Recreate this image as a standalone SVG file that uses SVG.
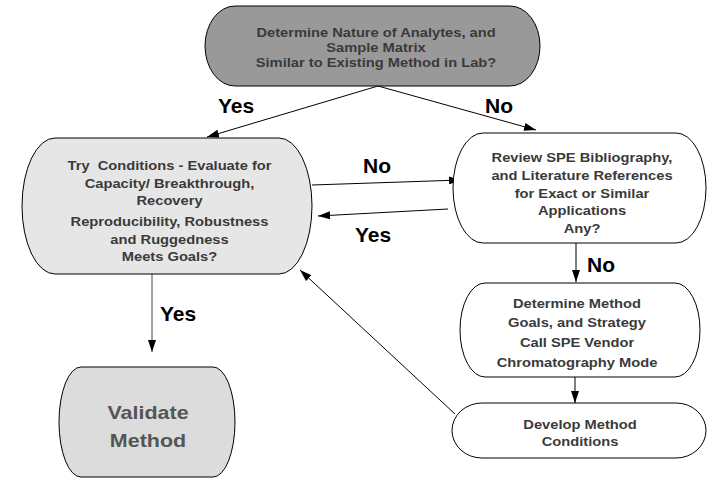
<svg xmlns="http://www.w3.org/2000/svg" width="708" height="478" viewBox="0 0 708 478">
<defs>
<marker id="ah" viewBox="0 0 12 8" refX="12" refY="4" markerWidth="12" markerHeight="8" markerUnits="userSpaceOnUse" orient="auto">
<path d="M0,0 L12,4 L0,8 Z" fill="#000"/>
</marker>
<style>
.node{stroke:#000;stroke-width:1}
.t{font-family:"Liberation Sans",Arial,sans-serif;font-weight:bold;font-size:13px;fill:#3a3a3a;text-anchor:middle}
.v{font-family:"Liberation Sans",Arial,sans-serif;font-weight:bold;font-size:19px;fill:#555;text-anchor:middle}
.lbl{font-family:"Liberation Sans",Arial,sans-serif;font-weight:bold;font-size:21px;fill:#000}
.c{stroke:#000;stroke-width:1;fill:none;marker-end:url(#ah)}
</style>
</defs>
<rect width="708" height="478" fill="#fff"/>
<g id="connectors">
<line class="c" x1="378" y1="86" x2="207" y2="137"/>
<line class="c" x1="378" y1="86" x2="536" y2="130"/>
<line class="c" x1="312" y1="185" x2="461" y2="180"/>
<line class="c" x1="448" y1="209" x2="318" y2="216"/>
<line class="c" x1="576" y1="243" x2="576" y2="282"/>
<line class="c" x1="575" y1="377" x2="575" y2="403"/>
<line class="c" x1="455" y1="414" x2="300" y2="270"/>
<line class="c" x1="152" y1="274" x2="152" y2="352" style="stroke:#444"/>
<text class="lbl" x="218" y="113">Yes</text>
<text class="lbl" x="485" y="113">No</text>
<text class="lbl" x="363" y="173">No</text>
<text class="lbl" x="355" y="242">Yes</text>
<text class="lbl" x="587" y="272">No</text>
<text class="lbl" x="160" y="321">Yes</text>
</g>
<g id="n-determine-nature">
<rect class="node" x="205" y="6" width="335" height="80" rx="30" ry="40" fill="#999"/>
<g transform="translate(376 0) scale(1.13 1)">
<text class="t" x="0" y="37">Determine Nature of Analytes, and</text>
<text class="t" x="0" y="52">Sample Matrix</text>
<text class="t" x="0" y="67">Similar to Existing Method in Lab?</text>
</g>
</g>
<g id="n-try-conditions">
<rect class="node" x="22" y="138" width="290" height="136" rx="33" ry="68" fill="#e6e6e6"/>
<g transform="translate(169.5 0) scale(1.13 1)">
<text class="t" x="0" y="170" style="white-space:pre">Try  Conditions - Evaluate for</text>
<text class="t" x="0" y="188">Capacity/ Breakthrough,</text>
<text class="t" x="0" y="205">Recovery</text>
<text class="t" x="0" y="226">Reproducibility, Robustness</text>
<text class="t" x="0" y="244">and Ruggedness</text>
<text class="t" x="0" y="261.5">Meets Goals?</text>
</g>
</g>
<g id="n-review">
<rect class="node" x="453" y="133" width="253" height="110" rx="30" ry="55" fill="#fff"/>
<g transform="translate(582 0) scale(1.13 1)">
<text class="t" x="0" y="162">Review SPE Bibliography,</text>
<text class="t" x="0" y="180">and Literature References</text>
<text class="t" x="0" y="198">for Exact or Similar</text>
<text class="t" x="0" y="215">Applications</text>
<text class="t" x="0" y="233">Any?</text>
</g>
</g>
<g id="n-determine-method">
<rect class="node" x="460" y="283" width="240" height="94" rx="25" ry="47" fill="#fff"/>
<g transform="translate(577 0) scale(1.13 1)">
<text class="t" x="0" y="308">Determine Method</text>
<text class="t" x="0" y="327">Goals, and Strategy</text>
<text class="t" x="0" y="347">Call SPE Vendor</text>
<text class="t" x="0" y="367">Chromatography Mode</text>
</g>
</g>
<g id="n-develop">
<rect class="node" x="452" y="403" width="254" height="55" rx="30" ry="27.5" fill="#fff"/>
<g transform="translate(580 0) scale(1.13 1)">
<text class="t" x="0" y="429">Develop Method</text>
<text class="t" x="0" y="446">Conditions</text>
</g>
</g>
<g id="n-validate">
<rect class="node" x="59" y="367" width="176" height="110" rx="22" ry="55" fill="#dcdcdc"/>
<g transform="translate(148 0) scale(1.13 1)">
<text class="v" x="0" y="419">Validate</text>
<text class="v" x="0" y="447">Method</text>
</g>
</g>
</svg>
